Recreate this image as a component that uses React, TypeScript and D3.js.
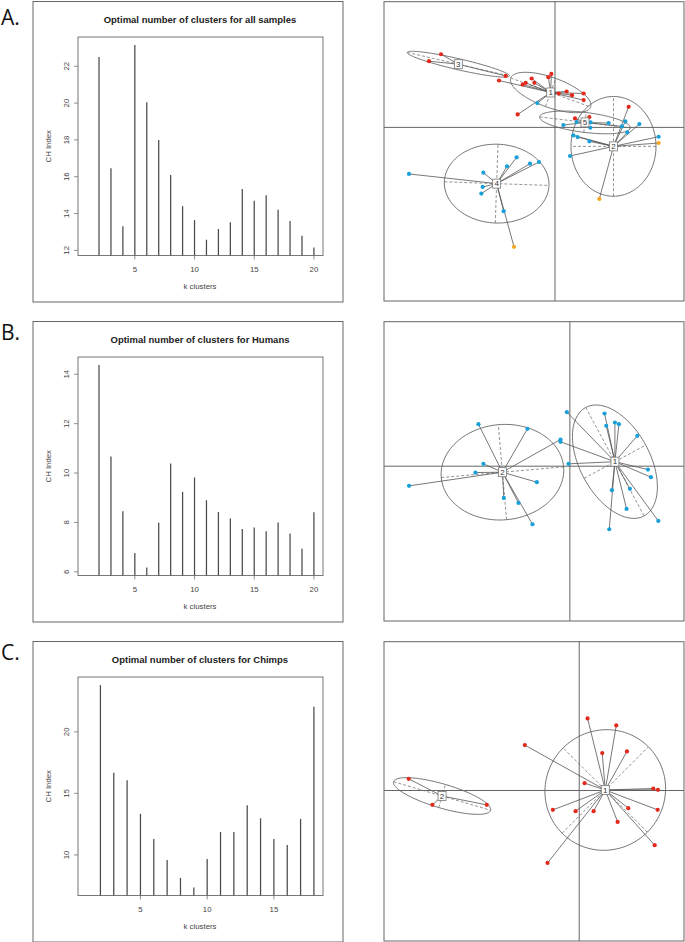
import React from 'react';
import * as d3 from 'd3';

// ---------- CH index data ----------
const kAll = [2, 3, 4, 5, 6, 7, 8, 9, 10, 11, 12, 13, 14, 15, 16, 17, 18, 19, 20];
const chAll = [22.5, 16.46, 13.31, 23.15, 20.04, 18.0, 16.09, 14.4, 13.64, 12.58, 13.16, 13.53, 15.33, 14.69, 15.0, 14.2, 13.6, 12.8, 12.16];
const kHumans = [2, 3, 4, 5, 6, 7, 8, 9, 10, 11, 12, 13, 14, 15, 16, 17, 18, 19, 20];
const chHumans = [14.37, 10.67, 8.45, 6.76, 6.18, 7.99, 10.39, 9.24, 9.82, 8.9, 8.42, 8.16, 7.73, 7.8, 7.64, 8.0, 7.55, 6.94, 8.41];
const kChimps = [2, 3, 4, 5, 6, 7, 8, 9, 10, 11, 12, 13, 14, 15, 16, 17, 18];
const chChimps = [23.8, 16.68, 16.06, 13.34, 11.3, 9.59, 8.13, 7.36, 9.67, 11.87, 11.87, 14.04, 12.98, 11.3, 10.81, 12.93, 22.03];

const yTicksAll = [12, 14, 16, 18, 20, 22];
const yTicksHumans = [6, 8, 10, 12, 14];
const yTicksChimps = [10, 15, 20];
const xTicks20 = [5, 10, 15, 20];
const xTicks18 = [5, 10, 15];

const titles = [
  'Optimal number of clusters for all samples',
  'Optimal number of clusters for Humans',
  'Optimal number of clusters for Chimps',
];
const panelLetters = ['A.', 'B.', 'C.'];

// ---------- cluster plot data: [comp1, comp2, cluster, group] ----------
type Pt = [number, number, number, string];
const scatterA: Pt[] = [
  [-2.28, 1.467, 3, 'R'], [-2.52, 1.327, 3, 'R'], [-0.987, 1.033, 3, 'R'],
  [-0.073, 1.073, 1, 'R'], [-0.133, 1.007, 1, 'R'], [-0.467, 0.98, 1, 'R'], [-0.413, 0.893, 1, 'R'],
  [-0.587, 0.893, 1, 'R'], [-0.647, 0.86, 1, 'R'], [0.073, 0.68, 1, 'R'], [0.233, 0.72, 1, 'R'],
  [0.34, 0.647, 1, 'R'], [0.573, 0.68, 1, 'R'], [0.573, 0.547, 1, 'R'], [-0.747, 0.26, 1, 'R'],
  [-1.12, 0.94, 1, 'R'], [-0.353, 0.487, 1, 'B'],
  [0.4, 0.18, 5, 'R'], [0.687, 0.207, 5, 'R'], [0.167, 0.047, 5, 'B'], [0.433, 0.107, 5, 'B'],
  [0.713, 0.1, 5, 'B'], [0.707, -0.007, 5, 'B'], [1.073, 0.087, 5, 'B'], [1.34, 0.02, 5, 'B'],
  [1.473, 0.413, 2, 'R'], [1.407, 0.12, 2, 'B'], [1.447, -0.1, 2, 'B'], [2.073, -0.187, 2, 'B'],
  [2.073, -0.313, 2, 'O'], [0.367, -0.16, 2, 'B'], [0.453, -0.193, 2, 'B'], [0.687, -0.28, 2, 'B'],
  [0.3, -0.573, 2, 'B'], [0.887, -1.433, 2, 'O'], [1.687, 0.067, 2, 'B'],
  [-2.92, -0.933, 4, 'B'], [-1.433, -0.907, 4, 'B'], [-0.96, -0.78, 4, 'B'], [-0.767, -0.6, 4, 'B'],
  [-0.5, -0.727, 4, 'B'], [-0.32, -0.693, 4, 'B'], [-1.447, -1.193, 4, 'B'], [-1.473, -1.327, 4, 'B'],
  [-1.027, -1.68, 4, 'B'], [-0.82, -2.393, 4, 'O'],
];
const scatterB: Pt[] = [
  [-1.827, 0.84, 2, 'B'], [-0.847, 0.747, 2, 'B'], [-1.727, 0.047, 2, 'B'], [-1.887, -0.127, 2, 'B'],
  [-3.213, -0.393, 2, 'B'], [-0.66, -0.32, 2, 'B'], [-1.32, -0.633, 2, 'B'], [-1.027, -0.733, 2, 'B'],
  [-0.747, -1.16, 2, 'B'], [-0.187, 0.533, 2, 'B'],
  [-0.06, 1.08, 1, 'B'], [0.693, 1.053, 1, 'B'], [0.727, 0.807, 1, 'B'], [0.9, 0.873, 1, 'B'],
  [0.98, 0.84, 1, 'B'], [1.347, 0.607, 1, 'B'], [1.56, -0.067, 1, 'B'], [1.62, -0.22, 1, 'B'],
  [1.2, -0.453, 1, 'B'], [0.84, -0.48, 1, 'B'], [1.133, -0.853, 1, 'B'], [1.767, -1.093, 1, 'B'],
  [0.787, -1.26, 1, 'B'], [-0.187, 0.487, 1, 'B'], [-0.027, 0.047, 1, 'B'],
];
const scatterC: Pt[] = [
  [-3.407, 0.233, 2, 'R'], [-2.933, -0.287, 2, 'R'], [-1.847, -0.287, 2, 'R'],
  [0.167, 1.44, 1, 'R'], [0.74, 1.3, 1, 'R'], [-1.087, 0.907, 1, 'R'], [0.46, 0.747, 1, 'R'],
  [0.953, 0.78, 1, 'R'], [0.107, 0.147, 1, 'R'], [1.48, 0.04, 1, 'R'], [1.573, 0.013, 1, 'R'],
  [-0.527, -0.387, 1, 'R'], [-0.073, -0.413, 1, 'R'], [0.287, -0.413, 1, 'R'], [0.98, -0.353, 1, 'R'],
  [0.767, -0.627, 1, 'R'], [1.567, -0.387, 1, 'R'], [1.507, -1.093, 1, 'R'], [-0.633, -1.447, 1, 'R'],
];

// ellipses: [cluster, cx, cy, semiA, semiB, angleDeg]
type El = [number, number, number, number, number, number];
const ellipsesA: El[] = [
  [1, -0.087, 0.7, 0.85, 0.3, -20],
  [2, 1.17, -0.38, 1.0, 0.85, 90],
  [3, -1.933, 1.267, 1.047, 0.11, -13],
  [4, -1.167, -1.127, 1.047, 0.79, -2],
  [5, 0.6, 0.1, 0.913, 0.2, -7],
];
const ellipsesB: El[] = [
  [1, 0.9, 0.09, 1.23, 0.7, -61.7],
  [2, -1.347, -0.12, 1.227, 0.953, 5],
];
const ellipsesC: El[] = [
  [1, 0.52, 0.01, 1.22, 1.19, 45],
  [2, -2.74, -0.11, 1.01, 0.24, -16.4],
];

const xDomA = [-3.42, 2.58];
const yDomA = [-3.48, 2.52];
const xDomB = [-3.713, 2.28];
const yDomB = [-3.093, 2.887];
const xDomC = [-3.9, 2.093];
const yDomC = [-3.007, 2.973];

const groupColor: Record<string, string> = { R: '#e4281c', B: '#1aa0d8', O: '#f6a623' };

const FONT = "'Liberation Sans', Arial, Helvetica, sans-serif";

function CHChart({ ks, values, yTicks, xTicks, title, oy }: any) {
  const kMax = d3.max(ks) as number;
  const xPad = (kMax - 1) * 0.04;
  const x = d3.scaleLinear().domain([1 - xPad, kMax + xPad]).range([78, 323]);
  const [lo, hi] = d3.extent(values) as [number, number];
  const yPad = (hi - lo) * 0.04;
  const y = d3.scaleLinear().domain([lo - yPad, hi + yPad]).range([255.5, 37]);
  const bottom = y.range()[0];
  const top = y.range()[1];
  return (
    <g transform={`translate(0,${oy})`} fontFamily={FONT}>
      <rect x={33} y={1.5} width={310} height={300.5} fill="white" stroke="#666" strokeWidth={1} />
      <text x={200} y={23} textAnchor="middle" fontSize={9.5} fontWeight="bold" fill="#222">{title}</text>
      <rect x={78} y={top} width={245} height={bottom - top} fill="none" stroke="#777" strokeWidth={1} />
      {ks.map((k: number, i: number) => (
        <line key={k} x1={x(k)} x2={x(k)} y1={y(values[i])} y2={bottom} stroke="#4a4a4a" strokeWidth={1.25} />
      ))}
      {xTicks.map((t: number) => (
        <g key={t}>
          <line x1={x(t)} x2={x(t)} y1={bottom} y2={bottom + 4} stroke="#777" strokeWidth={0.8} />
          <text x={x(t)} y={271.8} textAnchor="middle" fontSize={7.8} fill="#444">{t}</text>
        </g>
      ))}
      {yTicks.map((t: number) => (
        <g key={t}>
          <line x1={78} x2={74} y1={y(t)} y2={y(t)} stroke="#777" strokeWidth={0.8} />
          <text transform={`translate(68.8,${y(t)}) rotate(-90)`} textAnchor="middle" fontSize={7.8} fill="#444">{t}</text>
        </g>
      ))}
      <text x={200} y={288.8} textAnchor="middle" fontSize={7.8} fill="#444">k clusters</text>
      <text transform={`translate(50.5,${(top + bottom) / 2}) rotate(-90)`} textAnchor="middle" fontSize={7.8} fill="#444">CH Index</text>
    </g>
  );
}

function ClusterPlot({ pts, ells, xDom, yDom, oy }: any) {
  const x = d3.scaleLinear().domain(xDom).range([384, 684]);
  const y = d3.scaleLinear().domain(yDom).range([301, 1.7]);
  const centers: Record<number, [number, number]> = {};
  ells.forEach((e: El) => { centers[e[0]] = [e[1], e[2]]; });
  const line = d3.line<[number, number]>().x(d => x(d[0])).y(d => y(d[1])).curve(d3.curveLinearClosed);
  const angles = d3.range(0, 360, 3).map(a => (a * Math.PI) / 180);
  return (
    <g transform={`translate(0,${oy})`}>
      <rect x={384} y={1.7} width={300} height={299.3} fill="white" stroke="#666" strokeWidth={1} />
      <line x1={x(0)} x2={x(0)} y1={1.7} y2={301} stroke="#666" strokeWidth={1} />
      <line x1={384} x2={684} y1={y(0)} y2={y(0)} stroke="#666" strokeWidth={1} />
      {ells.map((e: El) => {
        const [c, cx, cy, a, b, deg] = e;
        const th = (deg * Math.PI) / 180;
        const ct = Math.cos(th), st = Math.sin(th);
        const outline: [number, number][] = angles.map(t => {
          const u = a * Math.cos(t), v = b * Math.sin(t);
          return [cx + u * ct - v * st, cy + u * st + v * ct];
        });
        return (
          <g key={c}>
            <path d={line(outline) as string} fill="none" stroke="#666" strokeWidth={0.9} />
            <line x1={x(cx - a * ct)} y1={y(cy - a * st)} x2={x(cx + a * ct)} y2={y(cy + a * st)}
              stroke="#666" strokeWidth={0.7} strokeDasharray="3,2" />
            <line x1={x(cx + b * st)} y1={y(cy - b * ct)} x2={x(cx - b * st)} y2={y(cy + b * ct)}
              stroke="#666" strokeWidth={0.7} strokeDasharray="3,2" />
          </g>
        );
      })}
      {pts.map((p: Pt, i: number) => {
        const c = centers[p[2]];
        return <line key={'l' + i} x1={x(c[0])} y1={y(c[1])} x2={x(p[0])} y2={y(p[1])} stroke="#555" strokeWidth={0.8} />;
      })}
      {pts.map((p: Pt, i: number) => (
        <circle key={'p' + i} cx={x(p[0])} cy={y(p[1])} r={2.1} fill={groupColor[p[3]]} />
      ))}
      {ells.map((e: El) => (
        <g key={'c' + e[0]}>
          <rect x={x(e[1]) - 4} y={y(e[2]) - 4.5} width={8} height={9} fill="white" stroke="#777" strokeWidth={0.8} />
          <text x={x(e[1])} y={y(e[2]) + 2.8} textAnchor="middle" fontSize={8} fontFamily={FONT} fill="#333">{e[0]}</text>
        </g>
      ))}
    </g>
  );
}

export default function App() {
  return (
    <svg width={685} height={942} style={{ position: 'absolute', left: 0, top: 0, display: 'block', background: 'white' }}>
      <rect x={0} y={0} width={685} height={942} fill="white" />
      <CHChart ks={kAll} values={chAll} yTicks={yTicksAll} xTicks={xTicks20} title={titles[0]} oy={0} />
      <CHChart ks={kHumans} values={chHumans} yTicks={yTicksHumans} xTicks={xTicks20} title={titles[1]} oy={320} />
      <CHChart ks={kChimps} values={chChimps} yTicks={yTicksChimps} xTicks={xTicks18} title={titles[2]} oy={640} />
      <ClusterPlot pts={scatterA} ells={ellipsesA} xDom={xDomA} yDom={yDomA} oy={0} />
      <ClusterPlot pts={scatterB} ells={ellipsesB} xDom={xDomB} yDom={yDomB} oy={320} />
      <ClusterPlot pts={scatterC} ells={ellipsesC} xDom={xDomC} yDom={yDomC} oy={640} />
      <text x={1} y={25} fontSize={21} fontFamily="'Open Sans', 'Noto Sans', sans-serif" fill="#111">{panelLetters[0]}</text>
      <text x={1} y={340} fontSize={21} fontFamily="'Open Sans', 'Noto Sans', sans-serif" fill="#111">{panelLetters[1]}</text>
      <text x={1} y={660} fontSize={21} fontFamily="'Open Sans', 'Noto Sans', sans-serif" fill="#111">{panelLetters[2]}</text>
    </svg>
  );
}
